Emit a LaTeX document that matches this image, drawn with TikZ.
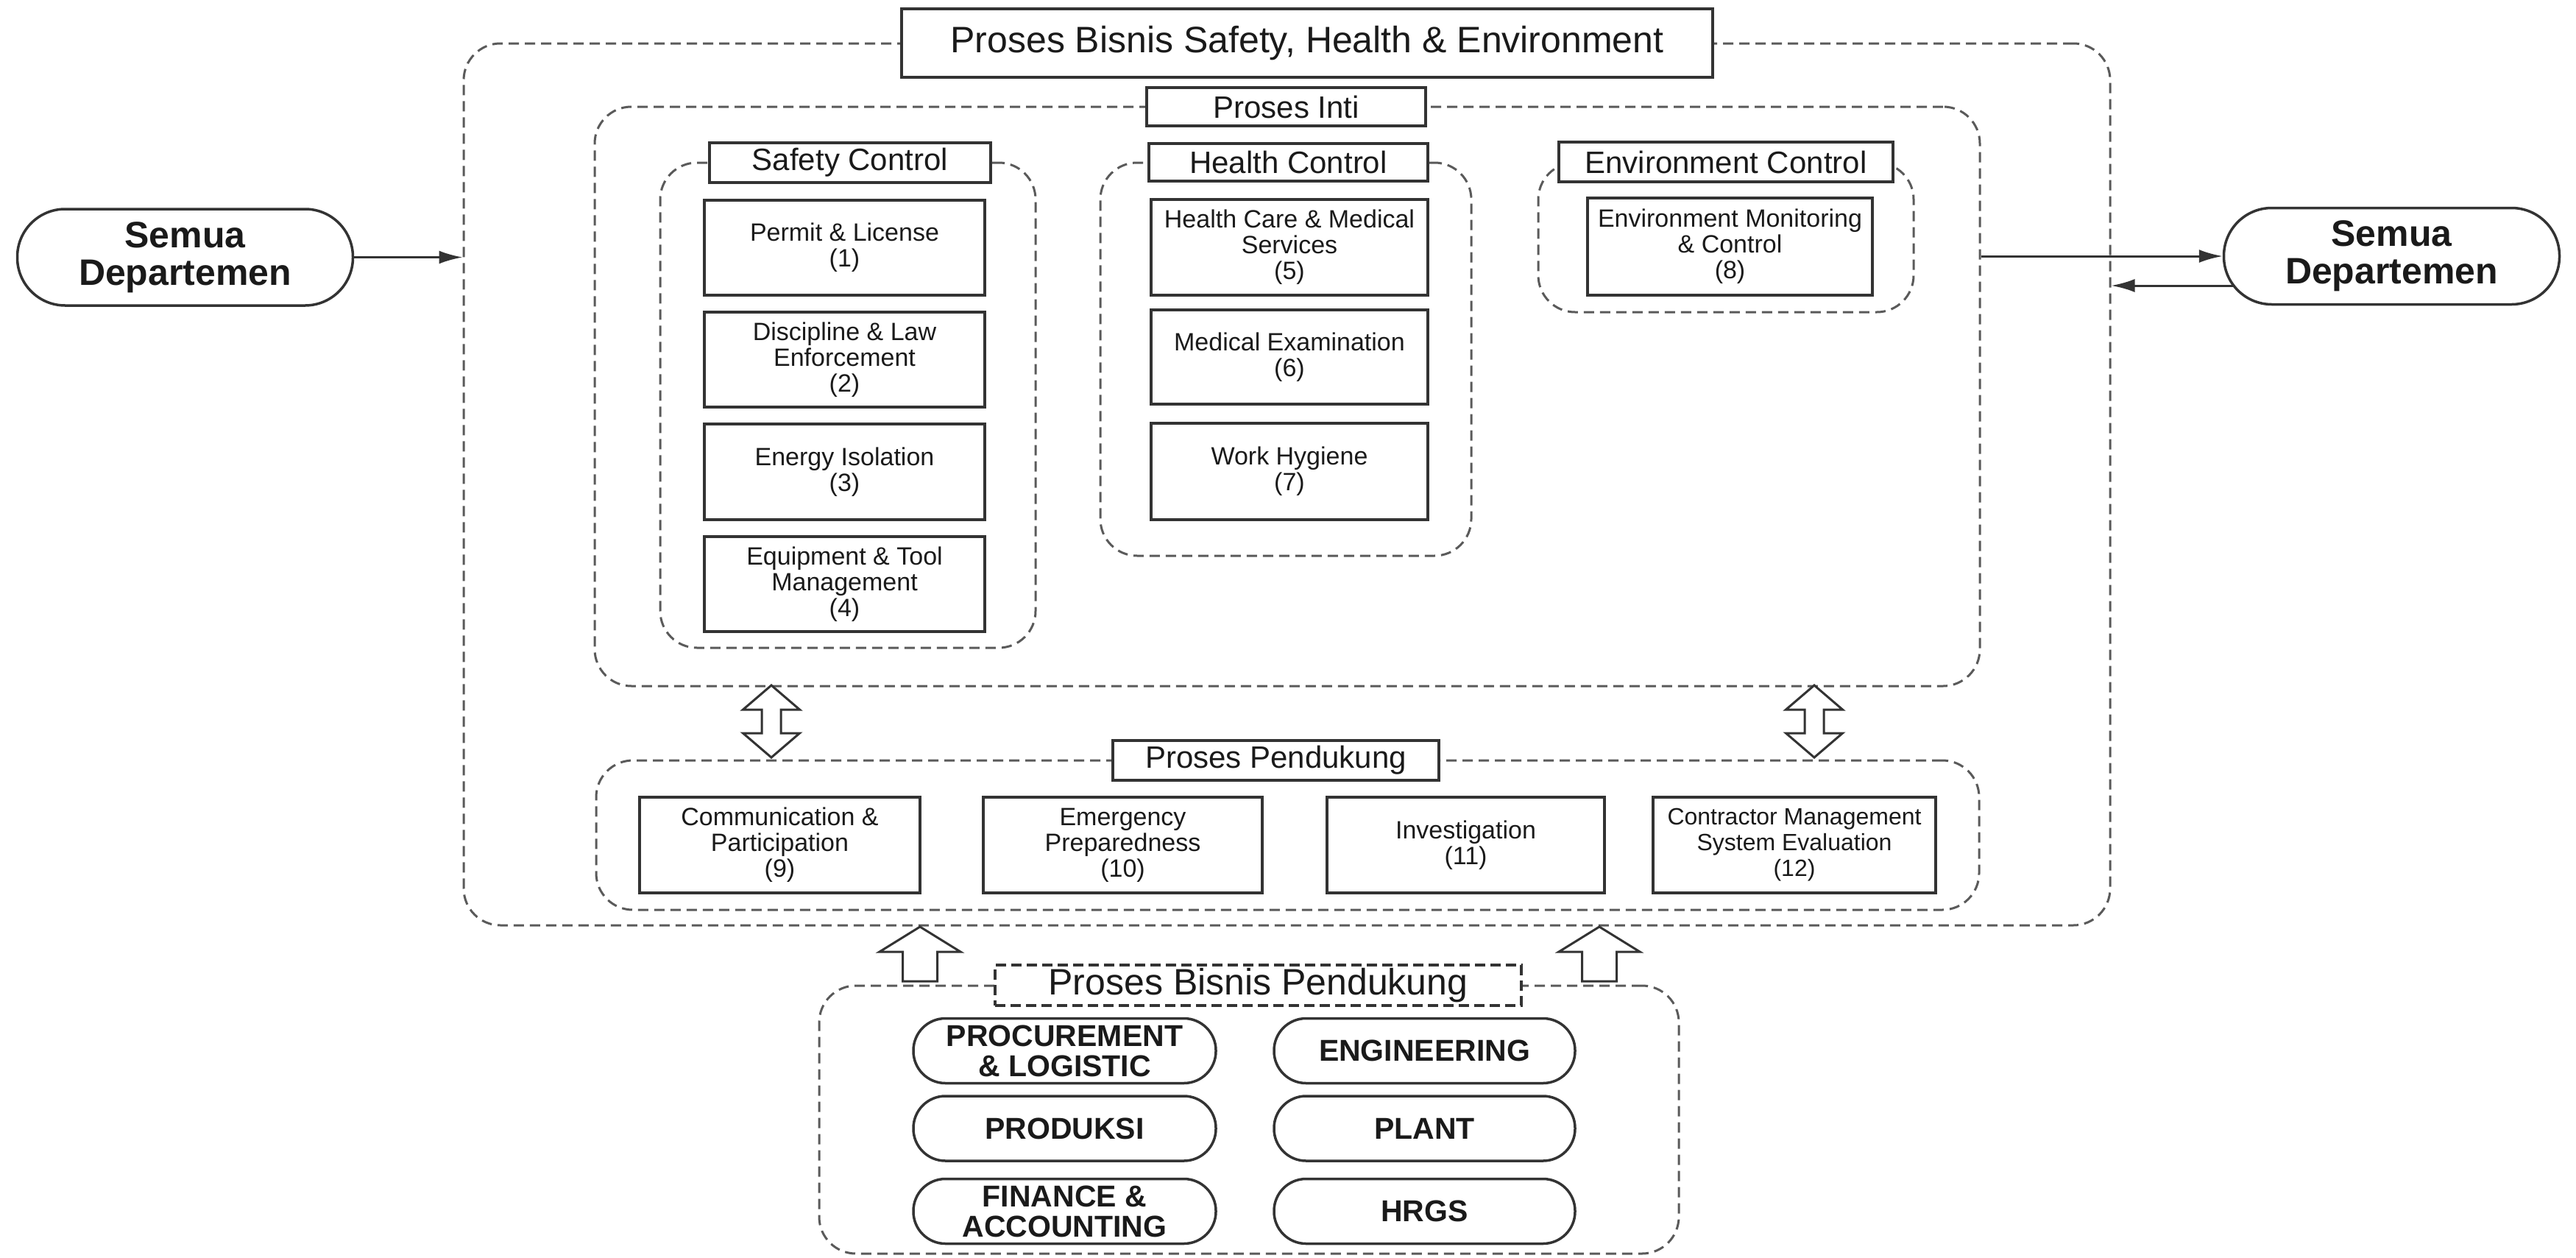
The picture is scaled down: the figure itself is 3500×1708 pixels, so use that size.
\documentclass[tikz,border=0pt]{standalone}
\usepackage{fontspec}
\setmainfont{Liberation Sans}
\usetikzlibrary{arrows.meta,calc}
\definecolor{bline}{HTML}{333333}
\definecolor{gline}{HTML}{5A5A5A}
\definecolor{txt}{HTML}{1A1A1A}
\tikzset{
  dblarrow/.pic={\draw[blockar] (0,-49) -- (38.5,-16) -- (13,-16) -- (13,16) -- (38.5,16) -- (0,49) -- (-38.5,16) -- (-13,16) -- (-13,-16) -- (-38.5,-16) -- cycle;},
  uparrow/.pic={\draw[blockar] (0,0) -- (55,34) -- (23.5,34) -- (23.5,74) -- (-23.5,74) -- (-23.5,34) -- (-55,34) -- cycle;},
}
\begin{document}
\begin{tikzpicture}[x=1pt,y=-1pt,
  grp/.style={draw=gline, line width=3pt, dash pattern=on 14pt off 8pt, rounded corners=50pt, inner sep=0pt},
  lbl/.style={draw=bline, line width=4pt, fill=white, inner sep=0pt, text=txt, font=\fontsize{42}{44}\selectfont},
  pbox/.style={draw=bline, line width=3.5pt, fill=white, inner sep=0pt, align=center, text=txt, font=\fontsize{34}{35}\selectfont},
  pill/.style={draw=bline, line width=3.5pt, rounded corners=43.5pt, inner sep=0pt, align=center, text=txt, font=\bfseries\fontsize{41}{41}\selectfont, minimum height=88pt},
  dept/.style={draw=bline, line width=3.5pt, rounded corners=65pt, inner sep=0pt, align=center, text=txt, font=\bfseries\fontsize{50}{51}\selectfont, minimum width=456pt, minimum height=131pt},
  conn/.style={draw=bline, line width=3pt, -{Latex[length=32pt,width=18pt]}},
  blockar/.style={draw=bline, line width=3pt, fill=white, line join=miter},
]
\useasboundingbox (0,0) rectangle (3500,1708);

% groups
\node[grp, minimum width=2237pt, minimum height=1198pt] (outer) at (1748.5,658) {};
\node[grp, minimum width=1882pt, minimum height=787pt] (inti) at (1749,538.5) {};
\node[grp, minimum width=510pt, minimum height=659pt] (gsafe) at (1152,550.5) {};
\node[grp, minimum width=504pt, minimum height=534pt] (ghealth) at (1747,488) {};
\node[grp, minimum width=510pt, minimum height=203pt] (genv) at (2345,322.5) {};
\node[grp, minimum width=1879pt, minimum height=203pt] (gpend) at (1749.5,1134.5) {};
\node[grp, minimum width=1168pt, minimum height=364pt] (gbis) at (1697,1521) {};

% labels
\node[lbl, line width=4.5pt, minimum width=1102pt, minimum height=93pt, font=\fontsize{50}{52}\selectfont] (title) at (1776,58.5) {Proses Bisnis Safety, Health \& Environment};
\node[lbl, minimum width=379pt, minimum height=52pt] (lInti) at (1747.5,145) {Proses Inti};
\node[lbl, minimum width=382pt, minimum height=54pt] (lSafe) at (1155,221) {Safety Control};
\node[lbl, minimum width=379pt, minimum height=51pt] (lHealth) at (1750.5,220.5) {Health Control};
\node[lbl, minimum width=454pt, minimum height=54pt] (lEnv) at (2345,220) {Environment Control};
\node[lbl, minimum width=443pt, minimum height=54pt] (lPend) at (1733.5,1033) {Proses Pendukung};
\node[lbl, dash pattern=on 14pt off 7pt, minimum width=715pt, minimum height=55pt, font=\fontsize{50}{52}\selectfont] (lBis) at (1709.5,1338.5) {Proses Bisnis Pendukung};

% safety boxes
\node[pbox, minimum width=381pt, minimum height=129pt] (b1) at (1147.5,336.5) {Permit \& License\\(1)};
\node[pbox, minimum width=381pt, minimum height=129pt] (b2) at (1147.5,488.5) {Discipline \& Law\\Enforcement\\(2)};
\node[pbox, minimum width=381pt, minimum height=130pt] (b3) at (1147.5,641) {Energy Isolation\\(3)};
\node[pbox, minimum width=381pt, minimum height=129pt] (b4) at (1147.5,793.5) {Equipment \& Tool\\Management\\(4)};
% health boxes
\node[pbox, minimum width=376pt, minimum height=130pt] (b5) at (1752,336) {Health Care \& Medical\\Services\\(5)};
\node[pbox, minimum width=376pt, minimum height=128pt] (b6) at (1752,485) {Medical Examination\\(6)};
\node[pbox, minimum width=376pt, minimum height=131pt] (b7) at (1752,640.5) {Work Hygiene\\(7)};
% environment box
\node[pbox, minimum width=387pt, minimum height=132pt] (b8) at (2350.5,335) {Environment Monitoring\\\& Control\\(8)};
% support boxes
\node[pbox, minimum width=381pt, minimum height=130pt] (b9) at (1059.5,1148) {Communication \&\\Participation\\(9)};
\node[pbox, minimum width=379pt, minimum height=130pt] (b10) at (1525.5,1148) {Emergency\\Preparedness\\(10)};
\node[pbox, minimum width=377pt, minimum height=130pt] (b11) at (1991.5,1148) {Investigation\\(11)};
\node[pbox, minimum width=384pt, minimum height=130pt, font=\fontsize{32}{35}\selectfont] (b12) at (2438,1148) {Contractor Management\\System Evaluation\\(12)};

% business support pills
\node[pill, minimum width=411pt] (p1) at (1446.5,1427.5) {PROCUREMENT\\\& LOGISTIC};
\node[pill, minimum width=409pt] (p2) at (1935.5,1427.5) {ENGINEERING};
\node[pill, minimum width=411pt] (p3) at (1446.5,1533) {PRODUKSI};
\node[pill, minimum width=409pt] (p4) at (1935.5,1533) {PLANT};
\node[pill, minimum width=411pt] (p5) at (1446.5,1645.5) {FINANCE \&\\ACCOUNTING};
\node[pill, minimum width=409pt] (p6) at (1935.5,1645.5) {HRGS};

% departments
\node[dept] (semL) at (251.5,349.5) {Semua\\Departemen};
\node[dept] (semR) at (3249.5,348) {Semua\\Departemen};

% connectors
\draw[conn] (semL.east) -- (semL.east -| outer.west);
\draw[conn] (inti.east |- semR.west) -- (semR.west);
\coordinate (back) at (3035,388);
\draw[conn] (back) -- (back -| outer.east);

% block arrows
\coordinate (da1) at (1048,980);
\coordinate (da2) at (2465,980);
\coordinate (ua1) at (1250,1259);
\coordinate (ua2) at (2173,1259);
\pic at (da1) {dblarrow};
\pic at (da2) {dblarrow};
\pic at (ua1) {uparrow};
\pic at (ua2) {uparrow};
\end{tikzpicture}
\end{document}
